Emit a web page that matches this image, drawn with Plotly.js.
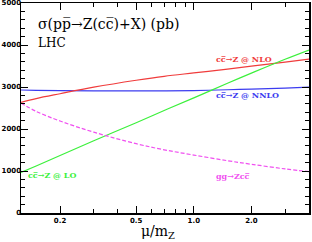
<!DOCTYPE html>
<html>
<head>
<meta charset="utf-8">
<script src="https://cdn.plot.ly/plotly-3.0.1.min.js"></script>
<style>html,body{margin:0;padding:0;background:#fff;}#chart{width:312px;height:242px;}</style>
</head>
<body>
<div id="chart"></div>
<script>
const mu = [0.125, 0.15, 0.2, 0.3, 0.5, 0.7, 1.0, 1.5, 2.0, 3.0, 4.0];
const nlo = [2635, 2725, 2840, 2995, 3160, 3255, 3335, 3425, 3495, 3592, 3665];
const nnlo = [2928, 2922, 2915, 2910, 2908, 2908, 2915, 2935, 2950, 2975, 2995];
const lo = [965, 1120, 1370, 1720, 2150, 2440, 2740, 3090, 3330, 3660, 3880];
const gg = [2615, 2420, 2190, 1925, 1650, 1505, 1380, 1245, 1160, 1050, 985];

const xRange = [0.125, 4.0];
const yRange = [0, 5000];
const majorX = [0.2, 0.5, 1.0, 2.0];
const majorXText = ['0.2', '0.5', '1.0', '2.0'];
const minorX = [0.3, 0.4, 0.6, 0.7, 0.8, 0.9, 3.0];
const majorY = [0, 1000, 2000, 3000, 4000, 5000];
const majorYText = ['0', '1000', '2000', '3000', '4000', '5000'];

const labels = {
  title: 'σ(pp\u0305→Z(cc\u0305)+X) (pb)',
  lhc: 'LHC',
  nlo: 'cc\u0305→Z @ NLO',
  nnlo: 'cc\u0305→Z @ NNLO',
  lo: 'cc\u0305→Z @ LO',
  gg: 'gg→Zcc\u0305',
  xtitle: 'μ/m<sub>Z</sub>'
};

const serif = 'DejaVu Serif';
const tickFont = {family: 'DejaVu Sans', size: 7, weight: 'bold', color: '#000'};

const traces = [
  {x: mu, y: nnlo, mode: 'lines', line: {color: '#3c3cf0', width: 1.2, shape: 'spline'}},
  {x: mu, y: nlo, mode: 'lines', line: {color: '#f03c3c', width: 1.2, shape: 'spline'}},
  {x: mu, y: lo, mode: 'lines', line: {color: '#3cf03c', width: 1.2, shape: 'spline'}},
  {x: mu, y: gg, mode: 'lines', line: {color: '#f050f0', width: 1.2, dash: '4px,2px', shape: 'spline'}},
  // y-axis tick labels, placed on the y scale at the left edge of the x range
  {x: majorY.map(() => xRange[0]), y: majorY, text: majorYText, mode: 'text',
   textposition: 'middle left', cliponaxis: false, textfont: tickFont, hoverinfo: 'skip'}
];

const layout = {
  width: 312, height: 242,
  margin: {l: 21, r: 3, t: 3, b: 29},
  paper_bgcolor: '#fff', plot_bgcolor: '#fff',
  showlegend: false,
  xaxis: {
    type: 'log', range: [Math.log10(xRange[0]), Math.log10(xRange[1])],
    tickmode: 'array', tickvals: majorX, ticktext: majorXText,
    ticks: 'inside', ticklen: 7, tickwidth: 1, tickcolor: '#000',
    showline: true, linecolor: '#000', linewidth: 1.5, mirror: 'ticks',
    showgrid: false, zeroline: false,
    tickfont: tickFont,
    minor: {tickmode: 'array', tickvals: minorX, ticks: 'inside', ticklen: 4, tickcolor: '#000', showgrid: false}
  },
  yaxis: {
    range: yRange, tickmode: 'array', tickvals: majorY,
    showticklabels: false,
    ticks: 'inside', ticklen: 7, tickwidth: 1, tickcolor: '#000',
    showline: true, linecolor: '#000', linewidth: 1.5, mirror: 'ticks',
    showgrid: false, zeroline: false,
    minor: {tickmode: 'linear', tick0: 0, dtick: 200, ticks: 'inside', ticklen: 4, tickcolor: '#000', showgrid: false}
  },
  annotations: [
    {xref: 'paper', yref: 'paper', x: 0.052, y: 0.90, xanchor: 'left', yanchor: 'middle', showarrow: false,
     text: labels.title, font: {family: serif, size: 14, color: '#000'}},
    {xref: 'paper', yref: 'paper', x: 0.052, y: 0.81, xanchor: 'left', yanchor: 'middle', showarrow: false,
     text: labels.lhc, font: {family: serif, size: 12, color: '#000'}},
    {xref: 'paper', yref: 'paper', x: 0.774, y: 0.733, xanchor: 'center', yanchor: 'middle', showarrow: false,
     text: labels.nlo, font: {family: serif, size: 8, weight: 'bold', color: '#f03c3c'}},
    {xref: 'paper', yref: 'paper', x: 0.785, y: 0.562, xanchor: 'center', yanchor: 'middle', showarrow: false,
     text: labels.nnlo, font: {family: serif, size: 8, weight: 'bold', color: '#3c3cf0'}},
    {xref: 'paper', yref: 'paper', x: 0.108, y: 0.181, xanchor: 'center', yanchor: 'middle', showarrow: false,
     text: labels.lo, font: {family: serif, size: 8, weight: 'bold', color: '#3cf03c'}},
    {xref: 'paper', yref: 'paper', x: 0.736, y: 0.176, xanchor: 'center', yanchor: 'middle', showarrow: false,
     text: labels.gg, font: {family: serif, size: 8, weight: 'bold', color: '#f050f0'}},
    {xref: 'paper', yref: 'paper', x: 0.476, y: -0.09, xanchor: 'center', yanchor: 'middle', showarrow: false,
     text: labels.xtitle, font: {family: serif, size: 14, color: '#000'}}
  ]
};

Plotly.newPlot('chart', traces, layout, {staticPlot: true, displayModeBar: false});
</script>
</body>
</html>
